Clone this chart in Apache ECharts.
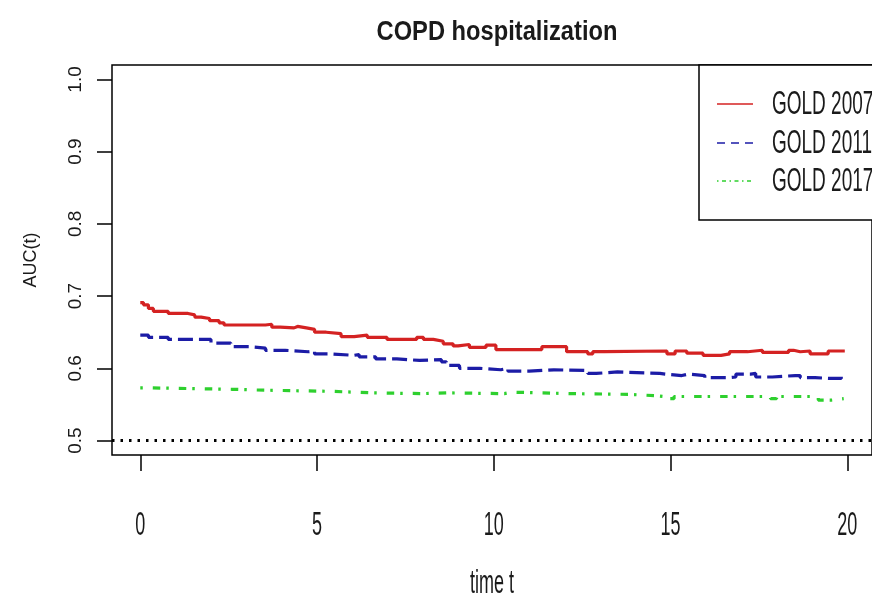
<!DOCTYPE html>
<html>
<head>
<meta charset="utf-8">
<title>COPD hospitalization</title>
<script src="https://cdn.jsdelivr.net/npm/echarts@6/dist/echarts.min.js"></script>
<style>
  html, body { margin: 0; padding: 0; background: #fff; }
  #chart { width: 872px; height: 606px; }
</style>
</head>
<body>
<div id="chart"></div>
<script>
// Time-dependent AUC(t) step curves for three GOLD classifications
const seriesNames = ['GOLD 2007', 'GOLD 2011', 'GOLD 2017'];

const gold2007 = [
  [0, 0.691], [0.09, 0.688], [0.23, 0.683], [0.37, 0.679], [0.79, 0.676],
  [1.35, 0.674], [1.54, 0.671], [1.72, 0.669], [1.96, 0.666], [2.23, 0.663],
  [2.37, 0.660], [3.54, 0.661], [3.72, 0.657], [3.96, 0.656], [4.35, 0.658],
  [4.45, 0.656], [4.70, 0.654], [4.93, 0.650], [5.26, 0.648], [5.68, 0.644],
  [6.05, 0.646], [6.42, 0.643], [6.98, 0.640], [7.82, 0.643], [8.01, 0.640],
  [8.29, 0.6375], [8.57, 0.634], [8.85, 0.631], [8.99, 0.633], [9.31, 0.629],
  [9.78, 0.632], [10.06, 0.626], [11.36, 0.630], [12.06, 0.623], [12.66, 0.620],
  [12.80, 0.623], [13.13, 0.624], [14.90, 0.620], [15.13, 0.624], [15.46, 0.621],
  [15.92, 0.618], [16.43, 0.620], [16.67, 0.623], [17.18, 0.625], [17.60, 0.622],
  [18.34, 0.625], [18.48, 0.623], [18.67, 0.624], [18.95, 0.620], [19.46, 0.624],
  [19.93, 0.624]
];

const gold2011 = [
  [0, 0.646], [0.23, 0.643], [0.79, 0.640], [2.0, 0.635], [2.56, 0.630],
  [3.07, 0.628], [3.54, 0.625], [4.10, 0.623], [4.75, 0.624], [4.93, 0.620],
  [5.35, 0.618], [6.05, 0.619], [6.19, 0.616], [6.66, 0.613], [7.26, 0.611],
  [7.9, 0.612], [8.52, 0.609], [8.66, 0.604], [9.03, 0.600], [9.6, 0.598],
  [10.2, 0.600], [10.4, 0.596], [11.0, 0.598], [11.7, 0.597], [12.66, 0.593],
  [12.9, 0.595], [13.5, 0.593], [14.7, 0.592], [14.85, 0.590], [15.32, 0.592],
  [15.50, 0.590], [15.97, 0.587], [16.62, 0.588], [16.85, 0.592], [17.27, 0.593],
  [17.41, 0.588], [17.88, 0.590], [18.53, 0.590], [18.67, 0.587], [19.09, 0.586],
  [19.56, 0.586], [19.83, 0.593], [19.9, 0.593]
];

const gold2017 = [
  [0, 0.573], [0.2, 0.571], [2.6, 0.570], [3.3, 0.568], [5.5, 0.566],
  [6.6, 0.565], [8.0, 0.566], [8.7, 0.565], [10.3, 0.567], [10.5, 0.565],
  [12.2, 0.564], [13.8, 0.562], [14.6, 0.561], [14.8, 0.558], [15.1, 0.561],
  [17.83, 0.558], [18.0, 0.561], [19.18, 0.556], [19.55, 0.558], [19.9, 0.558]
];

const xTicks = [0, 5, 10, 15, 20];
const yTicks = [0.5, 0.6, 0.7, 0.8, 0.9, 1.0];
const referenceLevel = 0.5;

const titleText = 'COPD hospitalization';
const xName = 'time t';
const yName = 'AUC(t)';

const sans = "'Liberation Sans', Arial, sans-serif";
const ink = '#1a1a1a';

const colors = ['#d42222', '#1c1ca6', '#2ed02e'];
const dashes = ['solid', [15, 6], [2.5, 10, 7.5, 6]];
const legendDashes = [null, [8, 6], [1.5, 3.5, 4, 3.5]];
const curves = [gold2007, gold2011, gold2017];

const plot = { left: 112, top: 65, width: 769, height: 390 };

const chart = echarts.init(document.getElementById('chart'), null, { renderer: 'canvas' });

const series = curves.map((data, i) => ({
  name: seriesNames[i],
  type: 'line',
  step: 'end',
  data: data,
  symbol: 'none',
  z: 3,
  lineStyle: { color: colors[i], width: 3.2, type: dashes[i], cap: 'butt' }
}));

// Horizontal reference at AUC = 0.5 (no discrimination)
series.push({
  name: 'reference',
  type: 'line',
  data: [],
  symbol: 'none',
  markLine: {
    silent: true,
    symbol: ['none', 'none'],
    label: { show: false },
    lineStyle: { color: '#000', width: 3, type: [2.5, 6], cap: 'butt' },
    data: [{ yAxis: referenceLevel }]
  }
});

chart.setOption({
  animation: false,
  backgroundColor: '#fff',
  grid: Object.assign({
    show: true,
    borderColor: '#000',
    borderWidth: 1.5,
    backgroundColor: 'transparent'
  }, plot),
  xAxis: {
    type: 'value',
    min: -0.8,
    max: 20.7,
    axisLine: { show: false, onZero: false },
    splitLine: { show: false },
    axisTick: { show: true, length: 16, lineStyle: { color: '#000', width: 1.5 }, customValues: xTicks },
    axisLabel: { show: false }
  },
  yAxis: {
    type: 'value',
    min: 0.48,
    max: 1.02,
    name: yName,
    nameLocation: 'middle',
    nameRotate: 90,
    nameGap: 72,
    nameTextStyle: { fontFamily: sans, fontSize: 18, color: ink },
    axisLine: { show: false, onZero: false },
    splitLine: { show: false },
    axisTick: { show: true, length: 15, lineStyle: { color: '#000', width: 1.5 }, customValues: yTicks },
    axisLabel: {
      fontFamily: sans, fontSize: 19, color: ink, rotate: 90, margin: 27,
      customValues: yTicks,
      formatter: v => v.toFixed(1)
    }
  },
  series: series
});

// Condensed, tall lettering for the horizontal texts (title, x labels, legend)
function tallText(text, x, y, size, stretch, opts) {
  opts = opts || {};
  return {
    type: 'text',
    x: x,
    y: y,
    scaleY: stretch,
    z: 10,
    style: {
      text: text,
      fill: ink,
      fontFamily: sans,
      fontSize: size,
      fontWeight: opts.bold ? 'bold' : 'normal',
      align: opts.align || 'center',
      verticalAlign: 'middle'
    }
  };
}

const plotBottom = chart.convertToPixel({ yAxisIndex: 0 }, 0.48);
const plotTop = chart.convertToPixel({ yAxisIndex: 0 }, 1.02);
const plotLeft = chart.convertToPixel({ xAxisIndex: 0 }, -0.8);
const plotRight = chart.convertToPixel({ xAxisIndex: 0 }, 20.7);
const plotMid = (plotLeft + plotRight) / 2;

const graphics = [];

// Title
graphics.push(tallText(titleText, plotMid + 5, plotTop - 33, 23.7, 1.2, { bold: true }));

// X tick labels and axis title
xTicks.forEach(v => {
  const px = chart.convertToPixel({ xAxisIndex: 0 }, v);
  graphics.push(tallText(String(v), px, plotBottom + 71, 18, 1.8));
});
graphics.push(tallText(xName, plotMid, plotBottom + 129, 18, 1.8));

// Legend box in the top-right corner of the plot
const legendLeft = 699;
const legendRows = [40, 79, 117];
graphics.push({
  type: 'rect',
  z: 8,
  shape: { x: legendLeft, y: plotTop, width: 220, height: 155 },
  style: { fill: '#fff', stroke: '#000', lineWidth: 1.5 }
});
seriesNames.forEach((name, i) => {
  const cy = plotTop + legendRows[i];
  graphics.push({
    type: 'line',
    z: 9,
    shape: { x1: legendLeft + 18, y1: cy - 1, x2: legendLeft + 54, y2: cy - 1 },
    style: { stroke: colors[i], lineWidth: 1.5, lineDash: legendDashes[i] }
  });
  graphics.push(tallText(name, legendLeft + 73, cy, 19, 1.7, { align: 'left' }));
});

chart.setOption({ graphic: graphics });
</script>
</body>
</html>
